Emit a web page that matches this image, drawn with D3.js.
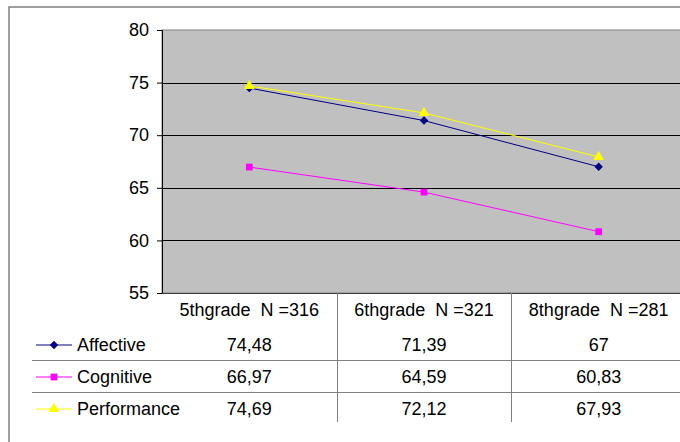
<!DOCTYPE html>
<html>
<head>
<meta charset="utf-8">
<script src="https://cdn.jsdelivr.net/npm/d3@7"></script>
<style>
  body { margin: 0; background: #fff; }
  text { font-family: "Liberation Sans", Arial, sans-serif; fill: #000; }
</style>
</head>
<body>
<div id="chart-area"></div>
<script>
// data
const grades = ["5th", "6th", "8th"];
const gradeN = [316, 321, 281];
const seriesNames = ["Affective", "Cognitive", "Performance"];
const affective = [74.48, 71.39, 67];
const cognitive = [66.97, 64.59, 60.83];
const performance = [74.69, 72.12, 67.93];
const yTicks = [55, 60, 65, 70, 75, 80];

const seriesValues = [affective, cognitive, performance];
const seriesColors = ["#000080", "#ff00ff", "#ffff00"];
const seriesSymbols = [d3.symbolDiamond2, d3.symbolSquare, d3.symbolTriangle];

// layout
const W = 680, H = 442;
const plot = {LEFT: 162, TOP: 30, RIGHT: 686, BOTTOM: 293};
const rowTop = 327, rowH = 32;
const fontSize = 18;

let svg = d3.select("#chart-area").append("svg")
            .attr("width", W)
            .attr("height", H);

// outer frame of the chart
svg.append("rect")
   .attr("x", 9).attr("y", 7)
   .attr("width", W + 20).attr("height", H + 20)
   .attr("fill", "#fff")
   .attr("stroke", "#808080")
   .attr("stroke-width", 1.5);

let x = d3.scaleBand()
          .domain(grades)
          .range([plot.LEFT, plot.RIGHT]);
let y = d3.scaleLinear()
          .domain([55, 80])
          .range([plot.BOTTOM, plot.TOP]);

// plot area
svg.append("rect")
   .attr("x", plot.LEFT).attr("y", plot.TOP)
   .attr("width", plot.RIGHT - plot.LEFT).attr("height", plot.BOTTOM - plot.TOP)
   .attr("fill", "#c0c0c0")
   .attr("stroke", "#808080");

// gridlines
svg.append("g")
   .selectAll("line")
   .data(yTicks.filter(t => t > 55 && t < 80))
   .enter().append("line")
   .attr("x1", plot.LEFT).attr("x2", plot.RIGHT)
   .attr("y1", d => Math.round(y(d)) + 0.5).attr("y2", d => Math.round(y(d)) + 0.5)
   .attr("stroke", "#000")
   .attr("stroke-width", 1);

// y axis
let yAxis = svg.append("g")
   .attr("transform", `translate(${plot.LEFT},0)`)
   .call(d3.axisLeft(y).tickValues(yTicks).tickSize(5).tickPadding(8));
yAxis.select(".domain").attr("stroke", "#000");
yAxis.selectAll(".tick line").attr("stroke", "#000");
yAxis.selectAll("text")
     .attr("font-size", fontSize + "px")
     .attr("font-family", "Liberation Sans, Arial, sans-serif")
     .attr("fill", "#000");

// bottom axis line
svg.append("line")
   .attr("x1", plot.LEFT).attr("x2", plot.RIGHT)
   .attr("y1", plot.BOTTOM + 0.5).attr("y2", plot.BOTTOM + 0.5)
   .attr("stroke", "#404040");

// series lines and markers
seriesValues.forEach(function(vals, s){
	let pts = vals.map((v, i) => [x(grades[i]) + x.bandwidth() / 2, y(v)]);
	svg.append("path")
	   .attr("d", d3.line()(pts))
	   .attr("fill", "none")
	   .attr("stroke", seriesColors[s])
	   .attr("stroke-width", 1);
});
// draw markers after lines (performance on top)
seriesValues.forEach(function(vals, s){
	svg.append("g")
	   .selectAll("path")
	   .data(vals)
	   .enter().append("path")
	   .attr("transform", (d, i) => `translate(${x(grades[i]) + x.bandwidth() / 2},${y(d)})`)
	   .attr("d", d3.symbol().type(seriesSymbols[s]).size(s == 2 ? 50 : 46))
	   .attr("fill", seriesColors[s]);
});

/***** data table *****/
let table = svg.append("g");

// vertical separators
table.selectAll("line.v")
     .data(grades.slice(1))
     .enter().append("line")
     .attr("class", "v")
     .attr("x1", d => Math.round(x(d)) + 0.5).attr("x2", d => Math.round(x(d)) + 0.5)
     .attr("y1", plot.BOTTOM).attr("y2", rowTop + 3 * rowH - 1)
     .attr("stroke", "#808080");

// horizontal row separators
table.selectAll("line.h")
     .data([1, 2])
     .enter().append("line")
     .attr("class", "h")
     .attr("x1", 32).attr("x2", W)
     .attr("y1", d => rowTop + d * rowH + 1.5).attr("y2", d => rowTop + d * rowH + 1.5)
     .attr("stroke", "#808080");

// header labels
table.selectAll("text.head")
     .data(grades)
     .enter().append("text")
     .attr("class", "head")
     .attr("x", d => x(d) + x.bandwidth() / 2)
     .attr("y", 316)
     .attr("font-size", fontSize + "px")
     .attr("text-anchor", "middle")
     .style("white-space", "pre")
     .text((d, i) => d + "grade  N =" + gradeN[i]);

// rows
seriesNames.forEach(function(name, s){
	let cy = rowTop + s * rowH + rowH / 2 + 2;
	table.append("line")
	     .attr("x1", 36).attr("x2", 72)
	     .attr("y1", cy).attr("y2", cy)
	     .attr("stroke", seriesColors[s]);
	table.append("path")
	     .attr("transform", `translate(54,${cy})`)
	     .attr("d", d3.symbol().type(seriesSymbols[s]).size(s == 2 ? 50 : 46))
	     .attr("fill", seriesColors[s]);
	table.append("text")
	     .attr("x", 77)
	     .attr("y", cy + 6)
	     .attr("font-size", fontSize + "px")
	     .text(name);
	table.selectAll(null)
	     .data(seriesValues[s])
	     .enter().append("text")
	     .attr("x", (d, i) => x(grades[i]) + x.bandwidth() / 2)
	     .attr("y", cy + 6)
	     .attr("font-size", fontSize + "px")
	     .attr("text-anchor", "middle")
	     .text(d => String(d).replace(".", ","));
});
</script>
</body>
</html>
